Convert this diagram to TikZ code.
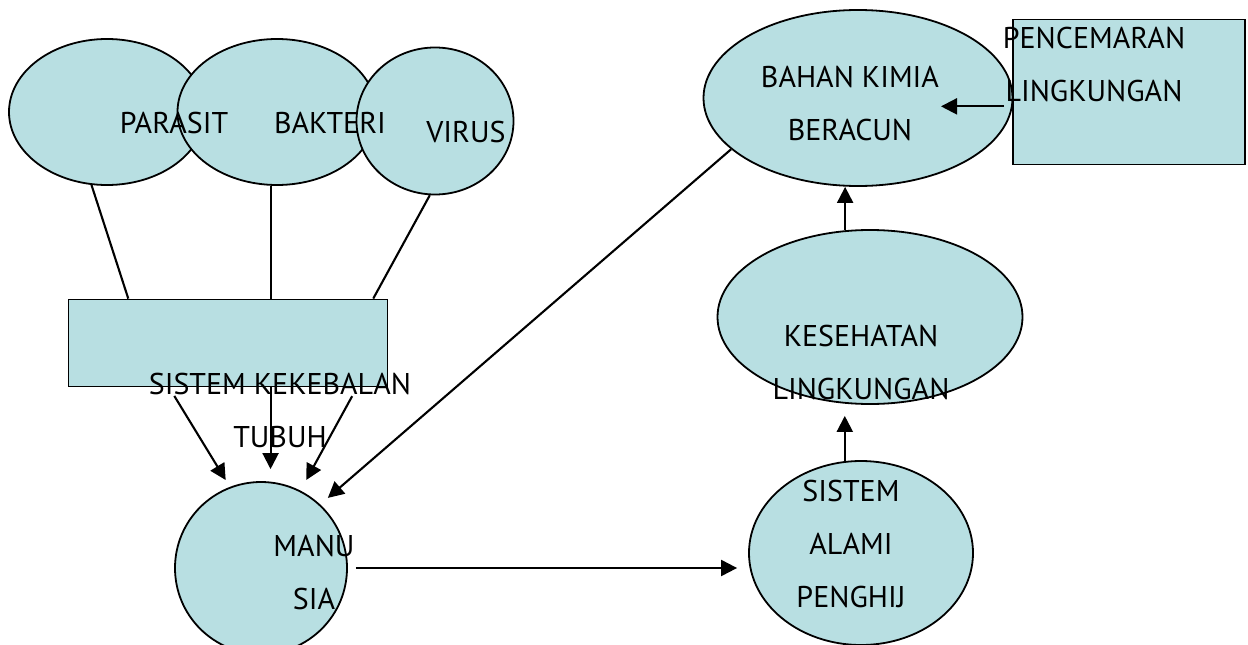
\documentclass[tikz,border=0pt]{standalone}
\usepackage{fontspec}
\setmainfont{PT Sans}
\usetikzlibrary{arrows.meta,shapes.geometric}
\definecolor{isi}{RGB}{184,223,226}

\begin{document}
\begin{tikzpicture}[x=1pt, y=-1pt,
    bola/.style={ellipse, draw, fill=isi, line width=1.8pt, inner sep=0pt},
    kotak/.style={rectangle, draw, fill=isi, line width=1.8pt, inner sep=0pt},
    teks/.style={inner sep=0pt, align=center, font=\fontsize{30}{53}\selectfont},
    garis/.style={line width=2.1pt},
    panah/.style={garis, -{Triangle[length=16pt, width=16pt]}}]
    \useasboundingbox (0,0) rectangle (1248,645);

    % Penyebab penyakit
    \node[bola, minimum width=196pt, minimum height=146pt] (parasit) at (107,112) {};
    \node[bola, minimum width=199pt, minimum height=146pt] (bakteri) at (277,112) {};
    \node[bola, minimum width=157pt, minimum height=147pt] (virus) at (435,121) {};
    \node[kotak, minimum width=319pt, minimum height=87pt] (imun) at (228,343) {};

    % Lingkungan
    \node[bola, minimum width=309pt, minimum height=176pt] (bahan) at (858,98) {};
    \node[kotak, minimum width=232pt, minimum height=145pt] (cemar) at (1129,92) {};
    \node[bola, minimum width=305pt, minimum height=174pt] (sehat) at (870,317) {};
    \node[bola, minimum width=224pt, minimum height=184pt] (alami) at (861,553) {};
    \node[bola, minimum width=172pt, minimum height=172pt] (manusia) at (261,568) {};

    % Garis ke sistem kekebalan
    \draw[garis] (parasit.258) -- (imun.156);
    \draw[garis] (bakteri.265) -- (bakteri.265 |- imun.north);
    \draw[garis] (virus.266) -- (imun.17);

    % Panah ke manusia
    \draw[panah, shorten <=10pt, shorten >=8pt] (imun.217) -- (manusia.111);
    \draw[panah, shorten >=12pt] (bakteri.265 |- imun.south) -- (bakteri.265 |- manusia.north);
    \draw[panah, shorten <=10pt, shorten >=12pt] (imun.341) -- (manusia.63);
    \draw[panah, shorten >=10pt] (bahan.202) -- (manusia.47);

    % Alur lingkungan
    \draw[panah, shorten <=8pt, shorten >=11pt] (manusia.east) -- (manusia.east -| alami.west);
    \draw[panah, shorten >=11pt] (alami.100) -- (alami.100 |- sehat.south);
    \draw[panah] (sehat.106) -- (sehat.106 |- bahan.south);
    \draw[panah, shorten <=8pt, shorten >=83pt] (cemar.187) -- (cemar.187 -| bahan.center);

    % Tulisan
    \node[teks] (tparasit) at (174,123) {PARASIT};
    \node[teks] (tbakteri) at (330,123) {BAKTERI};
    \node[teks] (tvirus) at (466,132) {VIRUS};
    \node[teks] (timun) at (280,410) {SISTEM KEKEBALAN\\TUBUH};
    \node[teks] (tmanusia) at (314,573) {MANU\\SIA};
    \node[teks] (tbahan) at (850,104) {BAHAN KIMIA\\BERACUN};
    \node[teks] (tcemar) at (1094,64) {PENCEMARAN\\LINGKUNGAN};
    \node[teks] (tsehat) at (861,362) {KESEHATAN\\LINGKUNGAN};
    \node[teks] (talami) at (851,544) {SISTEM\\ALAMI\\PENGHIJ};
\end{tikzpicture}
\end{document}
